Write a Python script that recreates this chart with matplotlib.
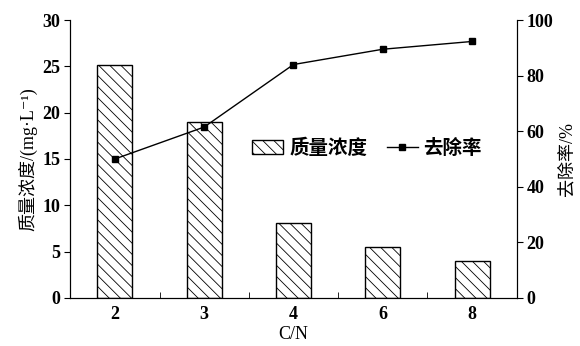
import numpy as np
import matplotlib
matplotlib.use("Agg")
import matplotlib.pyplot as plt
from matplotlib.ticker import FixedLocator

plt.rcParams['font.family'] = ['Liberation Serif', 'Noto Sans CJK SC', 'DejaVu Sans']
plt.rcParams['font.weight'] = 'bold'
plt.rcParams['hatch.linewidth'] = 0.6

cn = ["2", "3", "4", "6", "8"]
conc = [25.1, 19.0, 8.1, 5.5, 4.0]
removal = [50.0, 61.5, 84.0, 89.5, 92.3]

fig = plt.figure(figsize=(5.8, 3.46), dpi=100)
ax = fig.add_axes([0.121, 0.139, 0.770, 0.803])
x = np.arange(len(cn))

ax.bar(x, conc, width=0.39, color="white", edgecolor="black", linewidth=1.0,
       hatch="\\\\\\", label="质量浓度")
ax.set_xlim(-0.5, len(cn) - 0.5)
ax.set_ylim(0, 30)
ax.set_yticks(range(0, 31, 5))
ax.set_xticks(x)
ax.set_xticklabels(cn)
ax.xaxis.set_minor_locator(FixedLocator(x[:-1] + 0.5))
ax.tick_params(axis="x", which="major", length=0, pad=6, labelsize=13)
ax.tick_params(axis="x", which="minor", direction="in", length=4)
ax.tick_params(axis="y", direction="out", length=4, labelsize=13, pad=3)
ax.spines["top"].set_visible(False)
ax.set_xlabel("C/N", fontsize=13, labelpad=2)
ax.set_ylabel("质量浓度/(mg·L⁻¹)", fontsize=13, labelpad=4)

ax2 = ax.twinx()
ax2.plot(x, removal, color="black", marker="s", markersize=5, linewidth=1.0,
         label="去除率")
ax2.set_ylim(0, 100)
ax2.set_yticks(range(0, 101, 20))
ax2.tick_params(axis="y", direction="out", length=4, labelsize=13, pad=3)
ax2.spines["top"].set_visible(False)
ax2.set_ylabel("去除率/%", fontsize=13, fontweight="normal", labelpad=4)

h1, l1 = ax.get_legend_handles_labels()
h2, l2 = ax2.get_legend_handles_labels()
ax2.legend(h1 + h2, l1 + l2, loc="center", bbox_to_anchor=(0.665, 0.54),
           ncol=2, frameon=False, fontsize=14, handlelength=1.6,
           handletextpad=0.3, columnspacing=1.0)

fig.savefig("out.png", dpi=100)
